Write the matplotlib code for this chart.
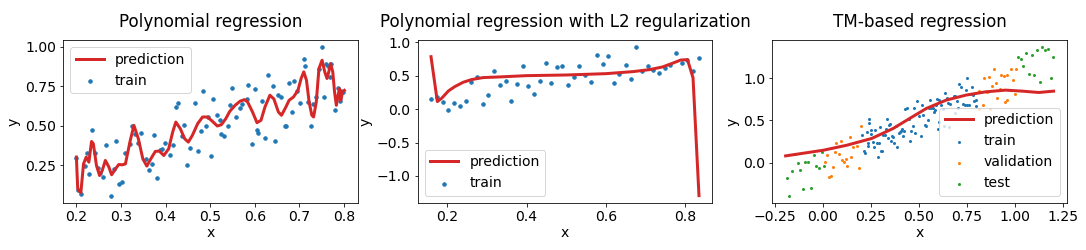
import matplotlib
matplotlib.use("Agg")
import matplotlib.pyplot as plt

# ---------------- Panel 1: Polynomial regression ----------------
p1_train_x = [0.200, 0.204, 0.211, 0.219, 0.224, 0.228, 0.236, 0.242, 0.249, 0.253,
              0.260, 0.267, 0.278, 0.284, 0.289, 0.295, 0.303, 0.310, 0.321, 0.324,
              0.332, 0.338, 0.345, 0.356, 0.362, 0.370, 0.373, 0.381, 0.387, 0.392,
              0.398, 0.411, 0.417, 0.423, 0.429, 0.441, 0.437, 0.447, 0.454, 0.465,
              0.472, 0.480, 0.483, 0.490, 0.495, 0.501, 0.507, 0.515, 0.522, 0.524,
              0.531, 0.540, 0.544, 0.550, 0.557, 0.567, 0.571, 0.582, 0.586, 0.593,
              0.600, 0.605, 0.608, 0.617, 0.624, 0.629, 0.641, 0.646, 0.652, 0.658,
              0.667, 0.670, 0.676, 0.684, 0.689, 0.695, 0.702, 0.710, 0.713, 0.719,
              0.727, 0.731, 0.738, 0.745, 0.751, 0.756, 0.760, 0.765, 0.769, 0.772,
              0.780, 0.786, 0.792, 0.794, 0.797]
p1_train_y = [0.295, 0.095, 0.068, 0.242, 0.328, 0.191, 0.475, 0.328, 0.233, 0.199,
              0.176, 0.375, 0.057, 0.227, 0.405, 0.129, 0.140, 0.326, 0.386, 0.496,
              0.445, 0.392, 0.451, 0.286, 0.220, 0.258, 0.439, 0.170, 0.345, 0.350,
              0.392, 0.316, 0.375, 0.617, 0.646, 0.502, 0.432, 0.252, 0.360, 0.646,
              0.341, 0.468, 0.722, 0.496, 0.555, 0.309, 0.667, 0.566, 0.538, 0.447,
              0.432, 0.496, 0.633, 0.737, 0.557, 0.612, 0.636, 0.667, 0.756, 0.381,
              0.731, 0.475, 0.455, 0.655, 0.419, 0.820, 0.750, 0.400, 0.697, 0.684,
              0.496, 0.496, 0.773, 0.589, 0.782, 0.722, 0.646, 0.922, 0.881, 0.648,
              0.496, 0.636, 0.684, 0.862, 0.996, 0.680, 0.888, 0.877, 0.811, 0.888,
              0.602, 0.737, 0.659, 0.720, 0.712]
p1_pred_x = [0.200, 0.203, 0.210, 0.216, 0.222, 0.228, 0.234, 0.238, 0.245, 0.252,
             0.258, 0.265, 0.273, 0.279, 0.288, 0.295, 0.303, 0.310, 0.320, 0.329,
             0.339, 0.349, 0.358, 0.368, 0.377, 0.386, 0.396, 0.407, 0.416, 0.423,
             0.433, 0.443, 0.451, 0.460, 0.472, 0.483, 0.494, 0.505, 0.516, 0.525,
             0.535, 0.544, 0.556, 0.567, 0.577, 0.584, 0.595, 0.605, 0.614, 0.623,
             0.634, 0.643, 0.653, 0.660, 0.670, 0.677, 0.687, 0.697, 0.704, 0.710,
             0.716, 0.722, 0.728, 0.732, 0.738, 0.744, 0.751, 0.757, 0.762, 0.766,
             0.770, 0.775, 0.779, 0.783, 0.787, 0.790, 0.793, 0.797, 0.801]
p1_pred_y = [0.301, 0.099, 0.074, 0.258, 0.301, 0.269, 0.400, 0.386, 0.248, 0.184,
             0.216, 0.280, 0.237, 0.189, 0.227, 0.254, 0.252, 0.258, 0.396, 0.502,
             0.417, 0.290, 0.244, 0.295, 0.337, 0.339, 0.311, 0.354, 0.460, 0.523,
             0.481, 0.417, 0.396, 0.438, 0.513, 0.555, 0.555, 0.528, 0.498, 0.506,
             0.544, 0.591, 0.629, 0.655, 0.665, 0.650, 0.587, 0.519, 0.534, 0.619,
             0.693, 0.669, 0.587, 0.566, 0.619, 0.661, 0.682, 0.725, 0.799, 0.841,
             0.788, 0.650, 0.566, 0.555, 0.650, 0.862, 0.915, 0.841, 0.799, 0.841,
             0.894, 0.841, 0.714, 0.629, 0.693, 0.735, 0.661, 0.714, 0.724]

# ---------------- Panel 2: Polynomial regression with L2 ----------------
p2_train_x = [0.159, 0.175, 0.190, 0.203, 0.218, 0.233, 0.248, 0.261, 0.275, 0.290,
              0.303, 0.318, 0.332, 0.347, 0.361, 0.375, 0.391, 0.403, 0.418, 0.433,
              0.448, 0.461, 0.476, 0.490, 0.504, 0.518, 0.533, 0.547, 0.562, 0.576,
              0.591, 0.604, 0.619, 0.633, 0.649, 0.662, 0.676, 0.691, 0.705, 0.719,
              0.734, 0.748, 0.762, 0.777, 0.792, 0.805, 0.819, 0.834]
p2_train_y = [0.154, 0.184, 0.104, -0.015, 0.090, 0.050, 0.119, 0.413, 0.478, 0.075,
              0.209, 0.572, 0.358, 0.423, 0.119, 0.373, 0.647, 0.343, 0.224, 0.418,
              0.692, 0.388, 0.632, 0.647, 0.358, 0.488, 0.647, 0.507, 0.403, 0.811,
              0.672, 0.796, 0.388, 0.522, 0.662, 0.453, 0.925, 0.572, 0.647, 0.587,
              0.537, 0.612, 0.662, 0.836, 0.687, 0.736, 0.572, 0.761]
p2_pred_x = [0.159, 0.175, 0.186, 0.203, 0.219, 0.240, 0.261, 0.290, 0.332, 0.399,
             0.500, 0.600, 0.667, 0.709, 0.742, 0.767, 0.788, 0.805, 0.819, 0.834]
p2_pred_y = [0.786, 0.114, 0.164, 0.274, 0.338, 0.403, 0.443, 0.473, 0.483, 0.502,
             0.512, 0.532, 0.562, 0.592, 0.632, 0.687, 0.736, 0.742, 0.470, -1.294]

# ---------------- Panel 3: TM-based regression ----------------
p3_train_x = [0.207, 0.233, 0.252, 0.243, 0.238, 0.217, 0.222,
              0.241, 0.236, 0.252, 0.260, 0.269, 0.274, 0.284, 0.290, 0.295, 0.300,
              0.305, 0.310, 0.316, 0.326, 0.331, 0.336, 0.343, 0.352, 0.341, 0.357,
              0.362, 0.367, 0.372, 0.381, 0.388, 0.398, 0.403, 0.409, 0.414, 0.419,
              0.424, 0.429, 0.440, 0.450, 0.460, 0.457, 0.471, 0.476, 0.481, 0.491,
              0.502, 0.512, 0.517, 0.522, 0.533, 0.538, 0.548, 0.553, 0.559, 0.564,
              0.574, 0.579, 0.584, 0.590, 0.595, 0.605, 0.600, 0.616, 0.626, 0.636,
              0.647, 0.652, 0.662, 0.684, 0.688, 0.700, 0.710, 0.719, 0.731, 0.748,
              0.752, 0.776, 0.766, 0.786, 0.797, 0.743, 0.753, 0.764, 0.797, 0.781,
              0.605, 0.631, 0.657, 0.688, 0.705]
p3_train_y = [0.333, 0.365, 0.381, 0.512, 0.238, 0.143, 0.119,
              0.476, 0.202, 0.341, 0.242, 0.190, 0.381, 0.238, 0.063, 0.238, 0.417,
              0.143, 0.143, 0.329, 0.333, 0.397, 0.512, 0.452, 0.460, 0.286, 0.262,
              0.310, 0.302, 0.234, 0.440, 0.183, 0.357, 0.369, 0.373, 0.397, 0.321,
              0.373, 0.631, 0.651, 0.512, 0.373, 0.262, 0.440, 0.651, 0.349, 0.726,
              0.556, 0.321, 0.679, 0.567, 0.452, 0.440, 0.504, 0.647, 0.742, 0.651,
              0.651, 0.599, 0.627, 0.683, 0.758, 0.738, 0.397, 0.679, 0.639, 0.821,
              0.762, 0.706, 0.702, 0.786, 0.786, 0.726, 0.929, 0.893, 0.702, 0.857,
              1.000, 0.893, 0.810, 0.726, 0.738, 0.690, 0.690, 0.690, 0.667, 0.798,
              0.488, 0.429, 0.417, 0.595, 0.647]
p3_val_x = [0.202, 0.072, 0.093, 0.140, 0.160, 0.181, 0.062, 0.083, 0.021, 0.010,
            0.150, 0.103, 0.119, 0.109, 0.129, 0.052, 0.191, 0.041, 0.031,
            0.895, 0.864, 0.843, 0.928, 0.943, 0.962, 0.983, 1.005, 0.993, 0.903,
            0.884, 0.855, 0.812, 0.926, 0.910, 0.974, 0.962, 0.952, 1.002, 0.833,
            0.874, 0.812]
p3_val_y = [0.440, 0.238, 0.262, 0.298, 0.183, 0.194, 0.131, 0.107, 0.095, 0.012,
            0.071, 0.036, 0.048, 0.012, -0.036, -0.048, -0.060, -0.155, -0.167,
            1.107, 1.012, 1.000, 1.036, 1.024, 1.036, 1.107, 1.107, 0.976, 0.940,
            0.905, 0.833, 0.845, 0.869, 0.762, 0.857, 0.738, 0.714, 0.810, 0.679,
            0.631, 0.631]
p3_test_x = [-0.188, -0.176, -0.162, -0.143, -0.129, -0.119, -0.103, -0.090, -0.078,
             -0.062, -0.047, -0.033, -0.019, -0.003, 0.009,
             1.019, 1.034, 1.045, 1.060, 1.076, 1.091, 1.102, 1.117, 1.133, 1.143,
             1.159, 1.174, 1.190, 1.202]
p3_test_y = [-0.179, -0.393, -0.095, 0.099, 0.000, -0.083, -0.310, 0.004, 0.004,
             -0.298, 0.095, -0.036, -0.060, 0.127, -0.036,
             1.250, 1.226, 1.151, 1.298, 1.048, 1.274, 1.036, 1.333, 0.952, 1.369,
             1.333, 1.345, 1.000, 1.250]
p3_pred_x = [-0.193, 0.005, 0.126, 0.255, 0.367, 0.453, 0.540, 0.643, 0.747, 0.850,
             0.953, 1.040, 1.126, 1.203]
p3_pred_y = [0.079, 0.147, 0.206, 0.286, 0.405, 0.524, 0.643, 0.742, 0.802, 0.841,
             0.861, 0.849, 0.833, 0.849]

titles = ["Polynomial regression", "Polynomial regression with L2 regularization",
          "TM-based regression"]
p1_xticks = [0.2, 0.3, 0.4, 0.5, 0.6, 0.7, 0.8]
p1_yticks = [0.25, 0.5, 0.75, 1.0]
p2_xticks = [0.2, 0.4, 0.6, 0.8]
p2_yticks = [-1.0, -0.5, 0.0, 0.5, 1.0]
p3_xticks = [-0.25, 0.0, 0.25, 0.5, 0.75, 1.0, 1.25]
p3_yticks = [0.0, 0.5, 1.0]

RED = "#d62728"
DPI = 72
plt.rcParams["font.size"] = 14

fig, axes = plt.subplots(1, 3, figsize=(1086 / DPI, 250 / DPI), dpi=DPI)
fig.subplots_adjust(left=0.058, right=0.9825, bottom=0.188, top=0.84, wspace=0.203)

ax = axes[0]
ax.plot(p1_pred_x, p1_pred_y, color=RED, lw=3, label="prediction")
ax.scatter(p1_train_x, p1_train_y, s=12, color="tab:blue", label="train")
ax.set_xticks(p1_xticks)
ax.set_yticks(p1_yticks)
ax.legend(loc="upper left")

ax = axes[1]
ax.plot(p2_pred_x, p2_pred_y, color=RED, lw=3, label="prediction")
ax.scatter(p2_train_x, p2_train_y, s=12, color="tab:blue", label="train")
ax.set_xticks(p2_xticks)
ax.set_yticks(p2_yticks)
ax.legend(loc="lower left")

ax = axes[2]
ax.plot(p3_pred_x, p3_pred_y, color=RED, lw=3, label="prediction")
ax.scatter(p3_train_x, p3_train_y, s=4, color="tab:blue", label="train")
ax.scatter(p3_val_x, p3_val_y, s=4, color="tab:orange", label="validation")
ax.scatter(p3_test_x, p3_test_y, s=4, color="tab:green", label="test")
ax.set_xticks(p3_xticks)
ax.set_yticks(p3_yticks)
ax.legend(loc="lower right")

for ax, t in zip(axes, titles):
    ax.set_title(t, pad=13)
    ax.set_xlabel("x", labelpad=2)
    ax.set_ylabel("y", labelpad=4)

fig.savefig("out.png", dpi=DPI)
